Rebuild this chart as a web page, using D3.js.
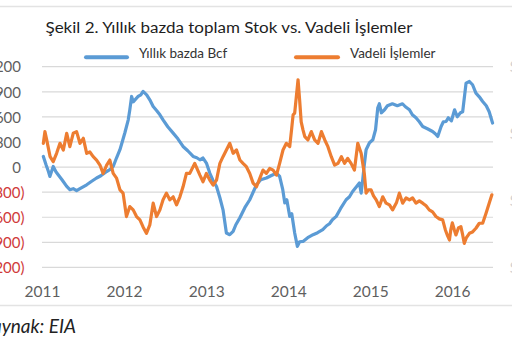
<!DOCTYPE html>
<html>
<head>
<meta charset="utf-8">
<script src="https://cdn.jsdelivr.net/npm/d3@7"></script>
<style>
  html, body { margin: 0; padding: 0; background: #fff; }
  svg { display: block; }
  text { font-family: Lato, "Open Sans", sans-serif; }
</style>
</head>
<body>
<svg id="chart" width="512" height="341"></svg>
<script>
// Year-over-year storage difference (Bcf), weekly readings
const bcfDates = [
  "2011-01-07","2011-01-19","2011-01-30","2011-02-05","2011-02-20","2011-03-04","2011-03-14","2011-03-31",
  "2011-04-21","2011-05-05","2011-05-20","2011-06-04","2011-06-19","2011-07-19","2011-08-07","2011-09-01",
  "2011-09-20","2011-10-16","2011-10-30","2011-11-14","2011-11-29","2011-12-14","2011-12-27","2012-01-05",
  "2012-01-20","2012-01-27","2012-02-04","2012-02-11","2012-02-19","2012-03-04","2012-03-16","2012-03-26",
  "2012-04-11","2012-04-25","2012-05-10","2012-05-26","2012-06-09","2012-06-23","2012-07-14","2012-08-07",
  "2012-08-28","2012-09-20","2012-10-11","2012-11-04","2012-11-20","2012-12-04","2012-12-18","2013-01-02",
  "2013-01-17","2013-01-30","2013-02-16","2013-03-03","2013-03-17","2013-04-01","2013-04-16","2013-05-01",
  "2013-05-13","2013-05-31","2013-06-22","2013-07-14","2013-08-13","2013-09-01","2013-09-26","2013-10-16",
  "2013-11-10","2013-11-24","2013-12-08","2013-12-17","2013-12-26","2014-01-08","2014-01-17","2014-01-30",
  "2014-02-11","2014-02-21","2014-03-08","2014-03-29","2014-04-22","2014-05-12","2014-06-04","2014-06-21",
  "2014-07-04","2014-07-17","2014-08-03","2014-08-22","2014-09-16","2014-10-01","2014-10-15","2014-11-01",
  "2014-11-14","2014-11-22","2014-11-29","2014-12-06","2014-12-14","2014-12-29","2015-01-13","2015-01-25",
  "2015-02-04","2015-02-11","2015-02-20","2015-03-06","2015-03-19","2015-04-10","2015-05-02","2015-05-25",
  "2015-06-07","2015-06-25","2015-07-08","2015-07-24","2015-08-08","2015-08-23","2015-09-13","2015-10-06",
  "2015-10-18","2015-10-29","2015-11-13","2015-11-23","2015-12-05","2015-12-15","2015-12-29","2016-01-12",
  "2016-01-24","2016-02-07","2016-02-17","2016-03-03","2016-03-18","2016-04-01","2016-04-16","2016-05-01",
  "2016-05-16","2016-06-01","2016-06-14","2016-06-29"
];
const bcfValues = [
  127, 27, -56, -112, 7, -56, -92, -152,
  -232, -271, -259, -283, -259, -212, -176, -131,
  -104, -53, -32, 7, 111, 207, 326, 410,
  565, 685, 844, 780, 804, 844, 864, 904,
  864, 804, 724, 673, 625, 565, 482, 406,
  338, 246, 195, 127, 111, 87, 108, 48,
  -72, -152, -232, -367, -511, -789, -809, -770,
  -690, -606, -486, -391, -212, -152, -131, -104,
  -72, -112, -271, -430, -391, -590, -558, -789,
  -949, -893, -889, -845, -809, -785, -749, -702,
  -678, -630, -590, -498, -391, -355, -292, -235,
  -191, -311, -152, 27, 207, 290, 326, 446,
  709, 757, 649, 685, 733, 757, 733, 757,
  721, 685, 625, 589, 541, 485, 458, 425,
  398, 366, 485, 541, 545, 589, 553, 685,
  601, 649, 661, 1004, 1023, 984, 884, 840,
  784, 733, 661, 526
];

// Natural gas futures price ($/MMBtu), weekly readings
const futDates = [
  "2011-01-07","2011-01-14","2011-01-22","2011-02-06","2011-02-20","2011-03-07","2011-03-22","2011-04-06",
  "2011-04-21","2011-05-05","2011-05-20","2011-06-04","2011-06-19","2011-07-04","2011-07-19","2011-08-02",
  "2011-08-17","2011-09-01","2011-09-16","2011-09-30","2011-10-16","2011-10-30","2011-11-14","2011-11-29",
  "2011-12-14","2011-12-28","2012-01-12","2012-01-27","2012-02-11","2012-02-26","2012-03-12","2012-03-26",
  "2012-04-10","2012-04-25","2012-05-10","2012-05-25","2012-06-09","2012-06-23","2012-07-08","2012-07-23",
  "2012-08-07","2012-08-22","2012-09-06","2012-09-20","2012-10-05","2012-10-20","2012-11-11","2012-12-04",
  "2012-12-18","2013-01-02","2013-01-17","2013-02-01","2013-02-16","2013-03-03","2013-03-17","2013-04-01",
  "2013-04-16","2013-05-01","2013-05-16","2013-05-31","2013-06-14","2013-06-29","2013-07-14","2013-07-29",
  "2013-08-13","2013-08-28","2013-09-11","2013-09-26","2013-10-11","2013-10-26","2013-11-10","2013-11-24",
  "2013-12-09","2013-12-24","2014-01-08","2014-01-17","2014-01-23","2014-01-30","2014-02-14","2014-02-21",
  "2014-02-28","2014-03-08","2014-03-16","2014-03-30","2014-04-14","2014-04-29","2014-05-14","2014-05-29",
  "2014-06-13","2014-06-27","2014-07-12","2014-07-27","2014-08-11","2014-08-26","2014-09-09","2014-09-23",
  "2014-10-08","2014-10-23","2014-11-07","2014-11-22","2014-12-06","2014-12-14","2014-12-24","2015-01-05",
  "2015-01-16","2015-01-28","2015-02-11","2015-02-26","2015-03-13","2015-03-28","2015-04-11","2015-04-28",
  "2015-05-11","2015-05-26","2015-06-10","2015-06-25","2015-07-09","2015-07-24","2015-08-08","2015-08-23",
  "2015-09-07","2015-09-21","2015-10-06","2015-10-21","2015-11-05","2015-11-20","2015-12-02","2015-12-12",
  "2015-12-20","2015-12-26","2016-01-02","2016-01-11","2016-01-18","2016-01-29","2016-02-09","2016-02-17",
  "2016-02-24","2016-03-04","2016-03-18","2016-04-01","2016-04-16","2016-05-01","2016-05-16","2016-05-31",
  "2016-06-14","2016-06-26"
];
const futValues = [
  4.71, 5.06, 4.81, 4.31, 4.16, 4.41, 4.71, 4.51,
  5.01, 4.61, 5.01, 5.06, 4.71, 4.86, 4.41, 4.45,
  4.31, 4.21, 4.06, 3.81, 4.06, 4.21, 3.81, 3.67,
  3.32, 3.22, 2.52, 2.82, 2.72, 2.52, 2.42, 2.21,
  2.02, 2.27, 2.92, 2.52, 2.72, 3.02, 3.22, 3.02,
  3.11, 2.87, 3.11, 3.41, 3.81, 3.81, 4.11, 3.76,
  3.56, 3.81, 3.61, 3.46, 3.61, 4.11, 4.31, 4.51,
  4.71, 4.41, 4.51, 4.21, 4.11, 4.01, 3.81, 3.52,
  3.41, 3.67, 3.91, 3.81, 3.96, 3.91, 3.76, 4.11,
  4.51, 4.71, 4.61, 5.17, 5.56, 5.61, 6.61, 6.01,
  5.35, 5.11, 4.91, 4.81, 5.06, 4.81, 4.71, 5.06,
  4.81, 4.61, 4.31, 4.06, 4.11, 4.31, 4.11, 4.26,
  4.11, 3.91, 4.71, 4.41, 3.81, 3.22, 3.32, 3.32,
  3.14, 3.02, 2.82, 3.11, 2.92, 2.87, 2.72, 2.93,
  3.22, 2.92, 3.08, 3.02, 3.08, 2.92, 2.99, 2.92,
  2.84, 2.72, 2.66, 2.52, 2.45, 2.42, 2.12, 1.94,
  1.82, 2.12, 2.33, 2.12, 1.97, 2.18, 2.22, 1.97,
  1.72, 1.88, 2.02, 2.06, 2.17, 2.32, 2.32, 2.62,
  2.92, 3.17
];

// Axis ticks
const bcfTicks = [1200, 900, 600, 300, 0, -300, -600, -900, -1200];
const priceTicks = [1, 3, 5, 7];
const yearTicks = [2011, 2012, 2013, 2014, 2015, 2016];

const titleText = "Şekil 2. Yıllık bazda toplam Stok vs. Vadeli İşlemler";
const seriesNames = ["Yıllık bazda Bcf", "Vadeli İşlemler"];
const sourceText = "Kaynak: EIA";

const BLUE = "#5b9bd5", ORANGE = "#ed7d31";
const parse = d3.timeParse("%Y-%m-%d");

const svg = d3.select("#chart");

const x = d3.scaleTime()
  .domain([new Date(2011, 0, 1), new Date(2016, 6, 1)])
  .range([42, 493]);
const y = d3.scaleLinear().domain([-1200, 1200]).range([267.4, 66.7]);
const y2 = d3.scaleLinear().domain([1, 7]).range([267.4, 66.7]);

// page separators
svg.append("line").attr("x1", 0).attr("x2", 512).attr("y1", 6.5).attr("y2", 6.5)
  .attr("stroke", "#e3e3e3").attr("stroke-width", 1.5);
svg.append("line").attr("x1", 0).attr("x2", 512).attr("y1", 305.5).attr("y2", 305.5)
  .attr("stroke", "#e3e3e3").attr("stroke-width", 1.5);

// title
svg.append("text").attr("x", 45.5).attr("y", 33)
  .attr("font-size", 15.5).attr("fill", "#1e1e1e")
  .attr("textLength", 367).attr("lengthAdjust", "spacingAndGlyphs")
  .text(titleText);

// gridlines
svg.append("g").selectAll("line").data(bcfTicks).join("line")
  .attr("x1", 42).attr("x2", 493)
  .attr("y1", d => y(d)).attr("y2", d => y(d))
  .attr("stroke", "#d9d9d9").attr("stroke-width", 1.2);

// left axis labels (accounting style: negatives in red parentheses)
const fmt = d3.format(",");
const gLeft = svg.append("g").attr("transform", "translate(21,0)")
  .call(d3.axisLeft(y).tickValues(bcfTicks).tickSize(0).tickFormat(""));
gLeft.select(".domain").remove();
gLeft.selectAll(".tick text").remove();
gLeft.selectAll(".tick").append("text")
  .attr("x", d => d < 0 ? 3.5 : 0)
  .attr("dy", "0.35em")
  .attr("text-anchor", "end")
  .attr("font-size", 15)
  .attr("fill", d => d < 0 ? "#d03a3a" : "#5f5f5f")
  .text(d => d < 0 ? "(" + fmt(-d) + ")" : fmt(d));

// right axis (price), labels sit at the far edge
const gRight = svg.append("g").attr("transform", "translate(509.5,0)")
  .call(d3.axisRight(y2).tickValues(priceTicks).tickSize(0).tickFormat(d3.format("$.2f")));
gRight.select(".domain").remove();
gRight.selectAll(".tick text").attr("x", 0).attr("font-size", 15).attr("fill", "#cfcfcf")
  .attr("font-family", "Lato, sans-serif");

// bottom axis labels
const gBottom = svg.append("g").attr("transform", "translate(0,292)")
  .call(d3.axisBottom(x).tickValues(yearTicks.map(yr => new Date(yr, 0, 1)))
    .tickSize(0).tickFormat(d3.timeFormat("%Y")));
gBottom.select(".domain").remove();
gBottom.selectAll(".tick text").attr("y", 0).attr("dy", "0.35em")
  .attr("font-size", 15.5).attr("fill", "#5f5f5f").attr("font-family", "Lato, sans-serif");

// series lines
const bcfData = bcfDates.map((d, i) => ({ date: parse(d), value: bcfValues[i] }));
const futData = futDates.map((d, i) => ({ date: parse(d), value: futValues[i] }));

svg.append("path").datum(bcfData)
  .attr("fill", "none").attr("stroke", BLUE).attr("stroke-width", 3.2)
  .attr("stroke-linejoin", "round").attr("stroke-linecap", "round")
  .attr("d", d3.line().x(d => x(d.date)).y(d => y(d.value)));

svg.append("path").datum(futData)
  .attr("fill", "none").attr("stroke", ORANGE).attr("stroke-width", 3.2)
  .attr("stroke-linejoin", "round").attr("stroke-linecap", "round")
  .attr("d", d3.line().x(d => x(d.date)).y(d => y2(d.value)));

// legend
const legendItems = [
  { name: seriesNames[0], color: BLUE, x1: 86, x2: 127, tx: 139 },
  { name: seriesNames[1], color: ORANGE, x1: 296, x2: 338, tx: 350 }
];
const gLeg = svg.append("g");
legendItems.forEach(it => {
  gLeg.append("line").attr("x1", it.x1).attr("x2", it.x2).attr("y1", 57.3).attr("y2", 57.3)
    .attr("stroke", it.color).attr("stroke-width", 4).attr("stroke-linecap", "round");
  gLeg.append("text").attr("x", it.tx).attr("y", 58).attr("font-size", 13.5)
    .attr("fill", "#333").text(it.name);
});

// source note
svg.append("text").attr("x", 76).attr("y", 333).attr("text-anchor", "end")
  .attr("font-size", 19).attr("font-style", "italic").attr("fill", "#222")
  .text(sourceText);
</script>
</body>
</html>
